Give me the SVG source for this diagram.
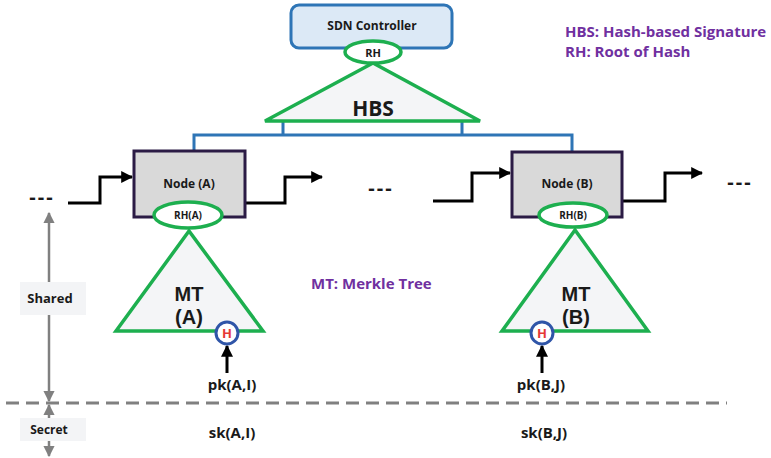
<svg xmlns="http://www.w3.org/2000/svg" width="771" height="458" viewBox="0 0 771 458">
  <style>
    text { font-family: "Open Sans", "Noto Sans", "Liberation Sans", sans-serif; font-weight: bold; text-anchor: middle; fill: #1a1a1a; }
    .legend { fill: #7030A0; font-size: 15px; text-anchor: start; }
    .dots { font-size: 20px; letter-spacing: 2px; }
    .mt { font-family: "Liberation Sans", Arial, sans-serif; font-size: 20px; }
    .tree { fill: #F4F5F7; stroke: #1DAF4F; stroke-width: 3.5; stroke-linejoin: miter; }
    .root { fill: #ffffff; stroke: #1DAF4F; stroke-width: 3.5; }
    .node { fill: #D9D9D9; stroke: #2B1B45; stroke-width: 3; }
    .hash { fill: #ffffff; stroke: #2F55A8; stroke-width: 3; }
    .flow { fill: none; stroke: #000000; stroke-width: 3; }
    .bus { fill: none; stroke: #2E75B6; stroke-width: 3; }
    .side { fill: none; stroke: #808080; stroke-width: 2.5; }
    .tag { fill: #F3F4F6; }
  </style>
  <defs>
    <marker id="arrowBlack" viewBox="0 0 10 10" refX="9" refY="5" markerWidth="4" markerHeight="4" orient="auto">
      <path d="M0,0 L10,5 L0,10 z" fill="#000000"/>
    </marker>
    <marker id="arrowGray" viewBox="0 0 10 10" refX="9" refY="5" markerWidth="4.5" markerHeight="4.5" orient="auto">
      <path d="M0,0 L10,5 L0,10 z" fill="#808080"/>
    </marker>
  </defs>

  <!-- legend -->
  <g id="legend">
    <text class="legend" x="565" y="37">HBS: Hash-based Signature</text>
    <text class="legend" x="565" y="57">RH: Root of Hash</text>
    <text class="legend" x="311" y="289">MT: Merkle Tree</text>
  </g>

  <!-- connectors -->
  <g id="connectors">
    <!-- controller bus -->
    <path class="bus" d="M283,122 V135 M462,122 V135 M194,151 V135 H572 V152"/>
    <!-- data path through the nodes -->
    <polyline class="flow" points="68,203 100,203 100,177 132,177" marker-end="url(#arrowBlack)"/>
    <polyline class="flow" points="245,203 285,203 285,177 322,177" marker-end="url(#arrowBlack)"/>
    <polyline class="flow" points="433,201 472,201 472,173 510,173" marker-end="url(#arrowBlack)"/>
    <polyline class="flow" points="622,201 665,201 665,173 702,173" marker-end="url(#arrowBlack)"/>
    <!-- public keys into hash leaves -->
    <line class="flow" x1="227" y1="373" x2="227" y2="346" marker-end="url(#arrowBlack)"/>
    <line class="flow" x1="542" y1="373" x2="542" y2="346" marker-end="url(#arrowBlack)"/>
  </g>

  <!-- SDN controller with its HBS tree -->
  <g id="controller">
    <rect x="291" y="5" width="161" height="43" rx="8" fill="#DCE9F6" stroke="#2E75B6" stroke-width="3"/>
    <text x="372" y="30" font-size="12">SDN Controller</text>
  </g>
  <g id="hbs">
    <polygon class="tree" points="373,63 265,121 480,121"/>
    <text x="373" y="116" font-size="21">HBS</text>
    <ellipse class="root" cx="373" cy="52" rx="28" ry="11"/>
    <text x="373" y="57" font-size="11">RH</text>
  </g>

  <!-- Node A -->
  <g id="nodeA">
    <rect class="node" x="134" y="151" width="111" height="66"/>
    <text x="189" y="188" font-size="12">Node (A)</text>
  </g>
  <g id="treeA">
    <polygon class="tree" points="189,231 116,331 263,331"/>
    <text class="mt" x="189" y="301">MT</text>
    <text class="mt" x="189" y="324">(A)</text>
    <ellipse class="root" cx="188" cy="215" rx="34" ry="13"/>
    <text x="188" y="219" font-size="10">RH(A)</text>
  </g>
  <g id="hashA">
    <circle class="hash" cx="227" cy="333" r="11"/>
    <text x="227" y="338" font-size="13" style="fill:#E53935">H</text>
  </g>
  <g id="keysA">
    <text x="232" y="390" font-size="15">pk(A,I)</text>
    <text x="232" y="438" font-size="15">sk(A,I)</text>
  </g>

  <!-- Node B -->
  <g id="nodeB">
    <rect class="node" x="512" y="152" width="110" height="65"/>
    <text x="567" y="188" font-size="12">Node (B)</text>
  </g>
  <g id="treeB">
    <polygon class="tree" points="575,230 502,331 648,331"/>
    <text class="mt" x="576" y="301">MT</text>
    <text class="mt" x="576" y="324">(B)</text>
    <ellipse class="root" cx="573" cy="215" rx="34" ry="12"/>
    <text x="573" y="219" font-size="10">RH(B)</text>
  </g>
  <g id="hashB">
    <circle class="hash" cx="542" cy="333" r="11"/>
    <text x="542" y="338" font-size="13" style="fill:#E53935">H</text>
  </g>
  <g id="keysB">
    <text x="541" y="390" font-size="15">pk(B,J)</text>
    <text x="544" y="438" font-size="15">sk(B,J)</text>
  </g>

  <!-- continuation marks -->
  <g id="more">
    <text class="dots" x="42" y="204">---</text>
    <text class="dots" x="381" y="195">---</text>
    <text class="dots" x="740" y="189">---</text>
  </g>

  <!-- shared / secret boundary -->
  <g id="boundary">
    <line x1="6" y1="403" x2="727" y2="403" stroke="#808080" stroke-width="3" stroke-dasharray="13 7"/>
    <line class="side" x1="49" y1="300" x2="49" y2="213" marker-end="url(#arrowGray)"/>
    <line class="side" x1="49" y1="300" x2="49" y2="401" marker-end="url(#arrowGray)"/>
    <rect class="tag" x="20" y="282" width="66" height="33"/>
    <text x="50" y="303" font-size="13">Shared</text>
    <line class="side" x1="49" y1="430" x2="49" y2="405" marker-end="url(#arrowGray)"/>
    <line class="side" x1="49" y1="430" x2="49" y2="456" marker-end="url(#arrowGray)"/>
    <rect class="tag" x="20" y="418" width="66" height="23"/>
    <text x="49" y="434" font-size="12">Secret</text>
  </g>
</svg>
